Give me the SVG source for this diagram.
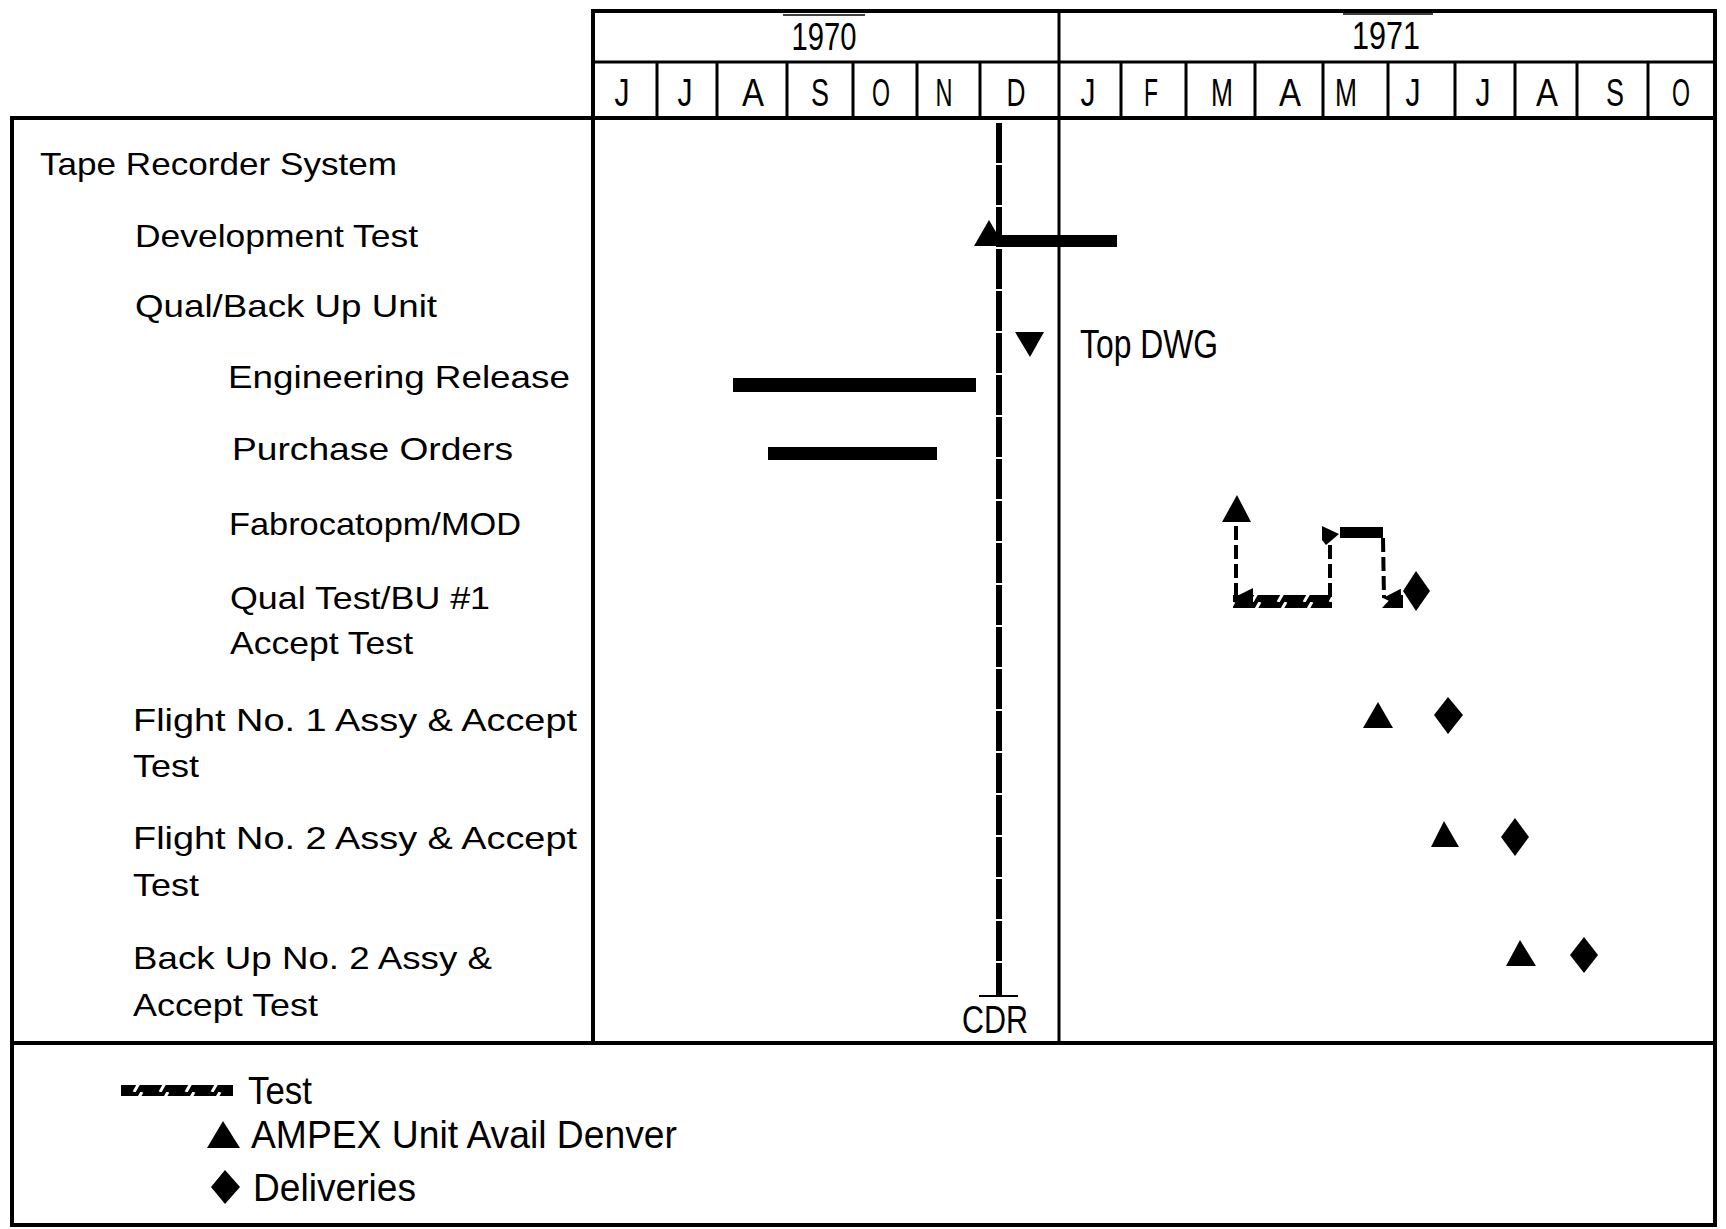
<svg xmlns="http://www.w3.org/2000/svg" width="1726" height="1229" viewBox="0 0 1726 1229">
<style>
  text { font-family: "Liberation Sans", Arial, sans-serif; fill: #000; }
  .lbl { font-size: 32px; }
  .big { font-size: 39px; }
  .mon { font-size: 39px; text-anchor: middle; }
  .frame { stroke: #000; stroke-width: 4; fill: none; }
  .div { stroke: #000; stroke-width: 3; fill: none; }
  .thin { stroke: #000; stroke-width: 1.5; fill: none; }
  .bar { fill: #000; }
  .dash { stroke: #000; stroke-width: 4; stroke-dasharray: 14 5; fill: none; }
  .cdr { stroke: #000; stroke-width: 6; stroke-dasharray: 40 2; fill: none; }
</style>
<defs>
  <pattern id="hatch" patternUnits="userSpaceOnUse" width="26" height="14">
    <rect width="26" height="14" fill="#000"/>
    <line x1="4" y1="14" x2="12" y2="0" stroke="#fff" stroke-width="3"/>
  </pattern>
  <marker id="arrow" markerUnits="userSpaceOnUse" markerWidth="18" markerHeight="18" refX="9" refY="17" orient="auto-start-reverse" viewBox="0 0 18 18">
    <path d="M0,0 L18,0 L9,18 Z" fill="#000"/>
  </marker>
</defs>
<rect width="1726" height="1229" fill="#fff"/>

<g id="frame">
  <line class="frame" x1="591" y1="11" x2="1717" y2="11"/>
  <line class="frame" x1="1715" y1="9" x2="1715" y2="1227"/>
  <line class="frame" x1="593" y1="9" x2="593" y2="1043"/>
  <line class="div" x1="593" y1="62" x2="1715" y2="62"/>
  <line class="frame" x1="10" y1="118" x2="1715" y2="118"/>
  <line class="frame" x1="12" y1="116" x2="12" y2="1227"/>
  <line class="frame" x1="10" y1="1043" x2="1715" y2="1043"/>
  <line class="frame" x1="10" y1="1225" x2="1717" y2="1225"/>
  <line class="div" x1="1059" y1="11" x2="1059" y2="1043"/>
</g>

<g id="header">
  <line class="thin" x1="783" y1="15" x2="865" y2="15"/>
  <line class="thin" x1="1343" y1="14" x2="1433" y2="14"/>
  <text class="big" x="824" y="50" text-anchor="middle" textLength="65" lengthAdjust="spacingAndGlyphs">1970</text>
  <text class="big" x="1386" y="49" text-anchor="middle" textLength="68" lengthAdjust="spacingAndGlyphs">1971</text>
  <g class="div">
    <line x1="657" y1="62" x2="657" y2="118"/>
    <line x1="717" y1="62" x2="717" y2="118"/>
    <line x1="787" y1="62" x2="787" y2="118"/>
    <line x1="853" y1="62" x2="853" y2="118"/>
    <line x1="917" y1="62" x2="917" y2="118"/>
    <line x1="980" y1="62" x2="980" y2="118"/>
    <line x1="1121" y1="62" x2="1121" y2="118"/>
    <line x1="1186" y1="62" x2="1186" y2="118"/>
    <line x1="1255" y1="62" x2="1255" y2="118"/>
    <line x1="1323" y1="62" x2="1323" y2="118"/>
    <line x1="1388" y1="62" x2="1388" y2="118"/>
    <line x1="1455" y1="62" x2="1455" y2="118"/>
    <line x1="1515" y1="62" x2="1515" y2="118"/>
    <line x1="1577" y1="62" x2="1577" y2="118"/>
    <line x1="1648" y1="62" x2="1648" y2="118"/>
  </g>
  <text class="mon" x="622" y="106" textLength="15" lengthAdjust="spacingAndGlyphs">J</text>
  <text class="mon" x="685" y="106" textLength="15" lengthAdjust="spacingAndGlyphs">J</text>
  <text class="mon" x="753" y="106" textLength="22" lengthAdjust="spacingAndGlyphs">A</text>
  <text class="mon" x="820" y="106" textLength="18" lengthAdjust="spacingAndGlyphs">S</text>
  <text class="mon" x="881" y="106" textLength="18" lengthAdjust="spacingAndGlyphs">O</text>
  <text class="mon" x="944" y="106" textLength="17" lengthAdjust="spacingAndGlyphs">N</text>
  <text class="mon" x="1016" y="106" textLength="19" lengthAdjust="spacingAndGlyphs">D</text>
  <text class="mon" x="1088" y="106" textLength="15" lengthAdjust="spacingAndGlyphs">J</text>
  <text class="mon" x="1151" y="106" textLength="14" lengthAdjust="spacingAndGlyphs">F</text>
  <text class="mon" x="1222" y="106" textLength="22" lengthAdjust="spacingAndGlyphs">M</text>
  <text class="mon" x="1290" y="106" textLength="22" lengthAdjust="spacingAndGlyphs">A</text>
  <text class="mon" x="1346" y="106" textLength="22" lengthAdjust="spacingAndGlyphs">M</text>
  <text class="mon" x="1413" y="106" textLength="15" lengthAdjust="spacingAndGlyphs">J</text>
  <text class="mon" x="1483" y="106" textLength="15" lengthAdjust="spacingAndGlyphs">J</text>
  <text class="mon" x="1547" y="106" textLength="22" lengthAdjust="spacingAndGlyphs">A</text>
  <text class="mon" x="1615" y="106" textLength="18" lengthAdjust="spacingAndGlyphs">S</text>
  <text class="mon" x="1681" y="106" textLength="18" lengthAdjust="spacingAndGlyphs">O</text>
</g>

<g id="row-tape-recorder-system">
  <text class="lbl" x="40" y="175" textLength="357" lengthAdjust="spacingAndGlyphs">Tape Recorder System</text>
</g>
<g id="row-development-test">
  <text class="lbl" x="135" y="247" textLength="283" lengthAdjust="spacingAndGlyphs">Development Test</text>
  <rect class="bar" x="997" y="235" width="120" height="12"/>
  <polygon class="bar" points="974,246 989,220 1004,246"/>
</g>
<g id="row-qual-backup-unit">
  <text class="lbl" x="135" y="317" textLength="302" lengthAdjust="spacingAndGlyphs">Qual/Back Up Unit</text>
  <polygon class="bar" points="1015,332 1044,332 1030,357"/>
  <text class="big" x="1080" y="358" textLength="138" lengthAdjust="spacingAndGlyphs" style="font-size:41px">Top DWG</text>
</g>
<g id="row-engineering-release">
  <text class="lbl" x="228" y="388" textLength="342" lengthAdjust="spacingAndGlyphs">Engineering Release</text>
  <rect class="bar" x="733" y="378" width="243" height="14"/>
</g>
<g id="row-purchase-orders">
  <text class="lbl" x="232" y="460" textLength="281" lengthAdjust="spacingAndGlyphs">Purchase Orders</text>
  <rect class="bar" x="768" y="447" width="169" height="13"/>
</g>
<g id="row-fabrication-mod">
  <text class="lbl" x="229" y="535" textLength="292" lengthAdjust="spacingAndGlyphs">Fabrocatopm/MOD</text>
  <polygon class="bar" points="1222,522 1237,495 1251,522"/>
  <rect class="bar" x="1340" y="527" width="43" height="11"/>
</g>
<g id="row-qual-test">
  <text class="lbl" x="230" y="609" textLength="260" lengthAdjust="spacingAndGlyphs">Qual Test/BU #1</text>
  <text class="lbl" x="230" y="654" textLength="183" lengthAdjust="spacingAndGlyphs">Accept Test</text>
  <rect x="1233" y="595" width="99" height="13" fill="url(#hatch)"/>
  <polygon class="bar" points="1382,608 1394,595 1403,595 1403,608"/>
  <polygon class="bar" points="1416,571 1430,591 1416,611 1403,591"/>
</g>
<g id="row-flight-1">
  <text class="lbl" x="133" y="731" textLength="444" lengthAdjust="spacingAndGlyphs">Flight No. 1 Assy &amp; Accept</text>
  <text class="lbl" x="133" y="777" textLength="66" lengthAdjust="spacingAndGlyphs">Test</text>
  <polygon class="bar" points="1363,728 1378,702 1393,728"/>
  <polygon class="bar" points="1448,697 1463,715 1448,734 1434,715"/>
</g>
<g id="row-flight-2">
  <text class="lbl" x="133" y="849" textLength="444" lengthAdjust="spacingAndGlyphs">Flight No. 2 Assy &amp; Accept</text>
  <text class="lbl" x="133" y="896" textLength="66" lengthAdjust="spacingAndGlyphs">Test</text>
  <polygon class="bar" points="1431,847 1444,821 1459,847"/>
  <polygon class="bar" points="1515,818 1529,837 1515,856 1501,837"/>
</g>
<g id="row-backup-2">
  <text class="lbl" x="133" y="969" textLength="359" lengthAdjust="spacingAndGlyphs">Back Up No. 2 Assy &amp;</text>
  <text class="lbl" x="133" y="1016" textLength="185" lengthAdjust="spacingAndGlyphs">Accept Test</text>
  <polygon class="bar" points="1506,966 1520,940 1536,966"/>
  <polygon class="bar" points="1584,937 1598,955 1584,973 1570,955"/>
</g>

<g id="cdr">
  <line class="cdr" x1="999" y1="123" x2="999" y2="996"/>
  <line class="div" x1="979" y1="996" x2="1018" y2="996" style="stroke-width:2"/>
  <text class="big" x="962" y="1033" textLength="66" lengthAdjust="spacingAndGlyphs">CDR</text>
</g>

<g id="connectors">
  <line class="dash" x1="1236" y1="526" x2="1236" y2="597" marker-end="url(#arrow)"/>
  <line class="dash" x1="1330" y1="597" x2="1330" y2="540"/>
  <polygon class="bar" points="1322,526 1339,534 1326,545 1322,540"/>
  <line class="dash" x1="1383" y1="538" x2="1384" y2="598" marker-end="url(#arrow)"/>
</g>

<g id="legend">
  <rect x="121" y="1085" width="112" height="11" fill="url(#hatch)"/>
  <text class="big" x="248" y="1104" textLength="64" lengthAdjust="spacingAndGlyphs">Test</text>
  <polygon class="bar" points="207,1148 223,1121 240,1148"/>
  <text class="big" x="251" y="1148" textLength="426" lengthAdjust="spacingAndGlyphs">AMPEX Unit Avail Denver</text>
  <polygon class="bar" points="225,1170 240,1187 225,1204 211,1187"/>
  <text class="big" x="253" y="1201" textLength="163" lengthAdjust="spacingAndGlyphs">Deliveries</text>
</g>
</svg>
